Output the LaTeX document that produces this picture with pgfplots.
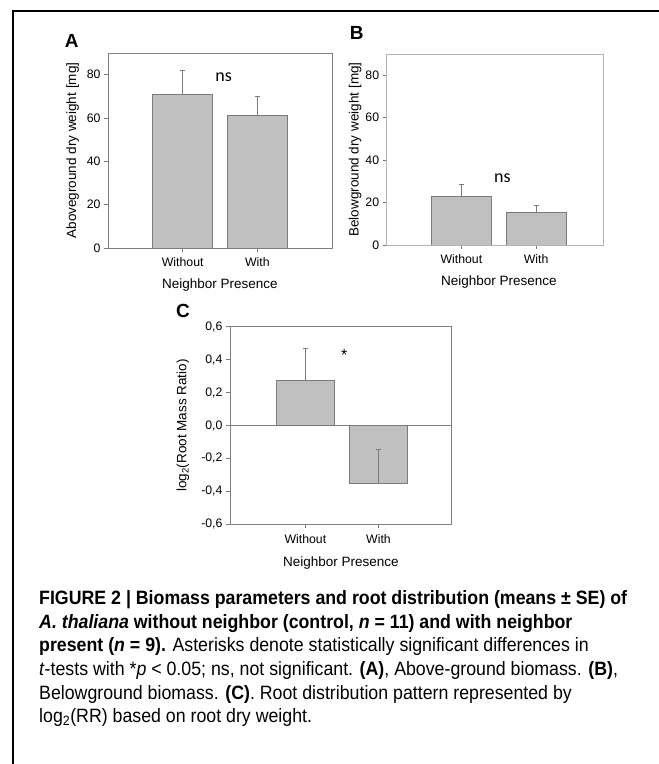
\documentclass[border=0pt]{standalone}
\usepackage{fontspec}
\setmainfont{Liberation Sans}
\newfontfamily\carlito{Carlito}
\newfontfamily\capfont[FakeStretch=0.92]{Liberation Sans}
\usepackage{pgfplots}
\pgfplotsset{compat=1.18}
\definecolor{barfill}{HTML}{C0C0C0}
\definecolor{baredge}{HTML}{7A7A7A}
\definecolor{frameA}{HTML}{808080}
\definecolor{frameB}{HTML}{B4B4B4}
\pgfplotsset{
  panel/.style={
    scale only axis,
    axis line style={frameA, line width=0.8pt},
    tick style={baredge, line width=0.7pt},
    major tick length=4pt,
    tick align=outside,
    xtick pos=bottom, ytick pos=left,
    xtick={1,2}, xticklabels={Without,With},
    ticklabel style={font=\fontsize{12.3}{14}\selectfont},
    xticklabel style={yshift=-2.5pt},
    /pgf/number format/assume math mode=true,
    label style={font=\fontsize{13.5}{16}\selectfont},
    ybar, bar width=0.8,
    xlabel={Neighbor Presence},
  },
  bars/.style={fill=barfill, draw=baredge, line width=0.8pt,
    error bars/.cd, y dir=plus, y explicit,
    error bar style={baredge, line width=0.8pt},
    error mark options={rotate=90, baredge, mark size=2.5pt, line width=0.8pt}},
}
\begin{document}
\begin{tikzpicture}
\path[use as bounding box] (0,0) rectangle (659pt,764pt);
\draw[line width=1.2pt] (13pt,0) -- (13pt,753pt) -- (659pt,753pt);

% Panel A
\begin{axis}[panel, at={(108pt,516pt)}, anchor=south west,
  width=224pt, height=195pt, xmin=0, xmax=3, ymin=0, ymax=90,
  ytick={0,20,40,60,80},
  ylabel={Aboveground dry weight [mg]},
  ylabel style={at={(axis description cs:-0.158,0.5)}, anchor=center},
  xlabel style={at={(axis description cs:0.5,-0.19)}, anchor=center}]
\addplot[bars] coordinates {(1,71.0) +- (0,10.9) (2,61.0) +- (0,9.1)};
\node[font=\carlito\fontsize{18}{20}\selectfont] at (axis cs:1.55,79) {ns};
\end{axis}

% Panel B
\begin{axis}[panel, at={(386.7pt,519pt)}, anchor=south west,
  axis line style={frameB, line width=0.8pt},
  width=216.6pt, height=191pt, xmin=0, xmax=2.9, ymin=0, ymax=90,
  ytick={0,20,40,60,80},
  ylabel={Belowground dry weight [mg]},
  ylabel style={at={(axis description cs:-0.146,0.5)}, anchor=center},
  xlabel style={at={(axis description cs:0.518,-0.192)}, anchor=center}]
\addplot[bars] coordinates {(1,22.8) +- (0,5.9) (2,15.4) +- (0,3.2)};
\node[font=\carlito\fontsize{18}{20}\selectfont] at (axis cs:1.55,31.7) {ns};
\end{axis}

% Panel C
\begin{axis}[panel, at={(230pt,239.7pt)}, anchor=south west,
  width=221.7pt, height=197.6pt, xmin=-0.03, xmax=3, ymin=-0.6, ymax=0.6,
  ytick={-0.6,-0.4,-0.2,0,0.2,0.4,0.6},
  yticklabels={{-0,6},{-0,4},{-0,2},{0,0},{0,2},{0,4},{0,6}},
  extra y ticks={0}, extra y tick labels={},
  extra y tick style={grid=major, major grid style={frameA, line width=0.8pt}},
  ylabel={log\textsubscript{2}(Root Mass Ratio)},
  ylabel style={at={(axis description cs:-0.212,0.5)}, anchor=center},
  xlabel style={at={(axis description cs:0.5,-0.196)}, anchor=center}]
\addplot[bars] coordinates {(1,0.275) +- (0,0.192) (2,-0.352) +- (0,0.209)};
\node[font=\fontsize{16}{18}\selectfont] at (axis cs:1.53,0.43) {*};
\end{axis}

% Panel letters
\node[font=\bfseries\fontsize{19}{22}\selectfont] at (71.7pt,722.8pt) {A};
\node[font=\bfseries\fontsize{19}{22}\selectfont] at (356.7pt,731pt) {B};
\node[font=\bfseries\fontsize{19}{22}\selectfont] at (183pt,453pt) {C};

% Caption
\begin{scope}[every node/.style={anchor=base west, inner sep=0pt, font=\capfont\fontsize{19.3}{23.6}\selectfont}]
\node at (39pt,159.2pt) {\bfseries FIGURE 2 | Biomass parameters and root distribution (means ± SE) of};
\node at (39pt,135.6pt) {\bfseries\textit{A. thaliana} without neighbor (control, \textit{n} = 11) and with neighbor};
\node at (39pt,112pt) {\textbf{present (\textit{n} = 9).} Asterisks denote statistically significant differences in};
\node at (39pt,88.4pt) {\textit{t}-tests with *\textit{p} < 0.05; ns, not significant. \textbf{(A)}, Above-ground biomass. \textbf{(B)},};
\node at (39pt,64.8pt) {Belowground biomass. \textbf{(C)}. Root distribution pattern represented by};
\node at (39pt,41.2pt) {log\textsubscript{2}(RR) based on root dry weight.};
\end{scope}
\end{tikzpicture}
\end{document}
